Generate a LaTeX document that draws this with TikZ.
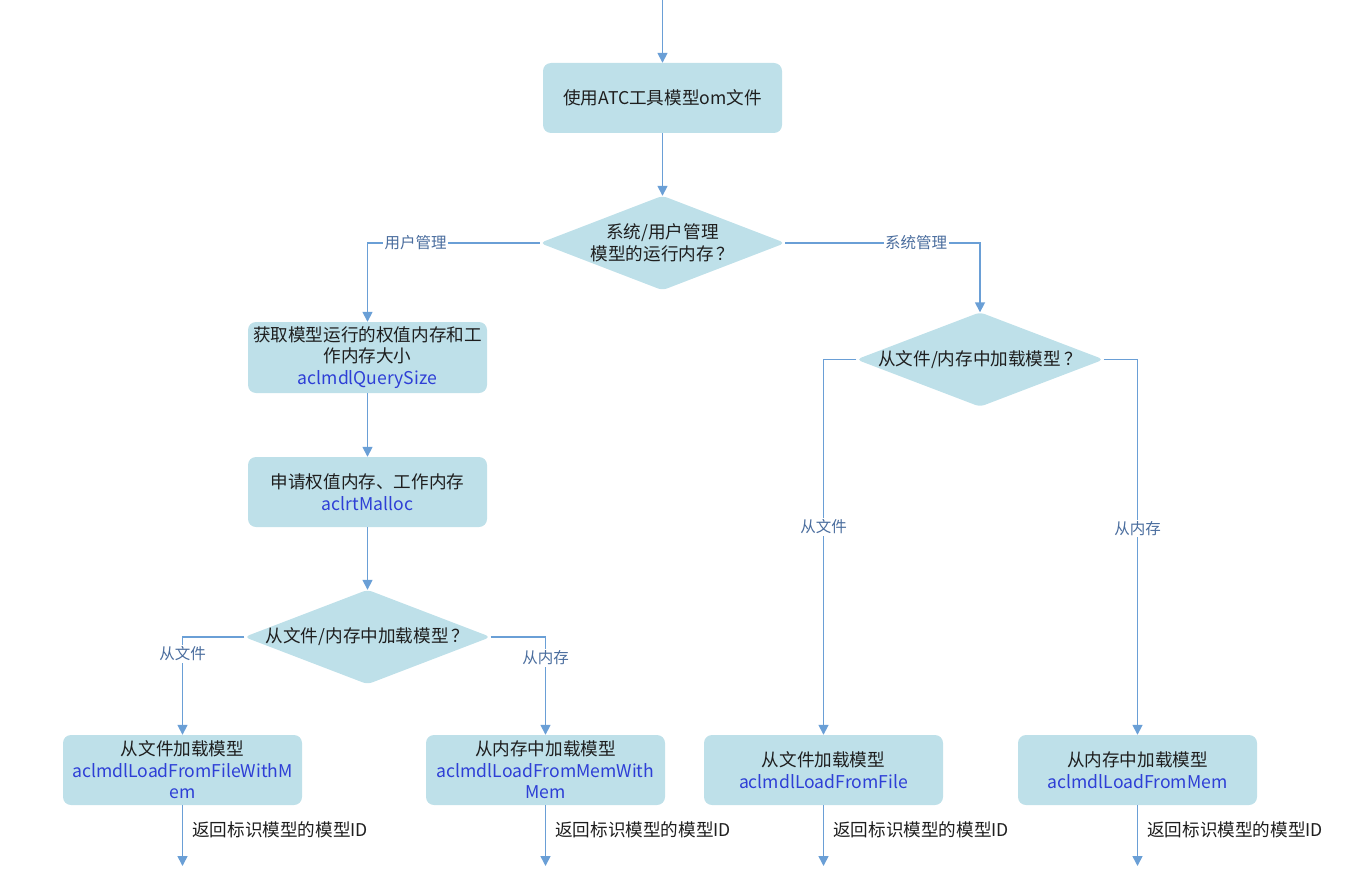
\documentclass[tikz,border=0pt]{standalone}
\usepackage{fontspec}
\setmainfont{Noto Sans CJK SC}
\usetikzlibrary{arrows.meta,backgrounds}
\definecolor{boxfill}{HTML}{BEE0E9}
\definecolor{linec}{HTML}{6A9FD6}
\definecolor{apiblue}{HTML}{2E3FD6}
\definecolor{lblc}{HTML}{4A6D9E}
\definecolor{txtc}{HTML}{1E1E1E}
\newcommand\apiname[1]{\textcolor{apiblue}{#1}}
\begin{document}
\begin{tikzpicture}[x=1pt,y=-1pt,
  box/.style={fill=boxfill, rounded corners=8pt, minimum width=239pt, minimum height=70pt,
    align=center, inner sep=0pt, text=txtc, font=\fontsize{17.6}{21.5}\selectfont},
  dia/.style={minimum width=#1, minimum height=94pt, inner sep=0pt, align=center,
    text=txtc, font=\fontsize{17.6}{22}\selectfont},
  conn/.style={draw=linec, line width=1.6pt, -{Triangle[width=10pt,length=10pt]}},
  elabel/.style={fill=white, text=lblc, font=\fontsize{15.5}{18}\selectfont, inner sep=1.5pt},
  ret/.style={anchor=west, text=txtc, inner sep=0pt, font=\fontsize{17.6}{20}\selectfont}
]
\useasboundingbox (0,0) rectangle (1351,872);

% nodes
\node[box] (b0) at (662.5,98) {使用ATC工具模型om文件};
\node[dia=245pt] (d1) at (662.5,243) {系统/用户管理\\模型的运行内存\,？};
\node[box, minimum height=71pt] (b1) at (367.5,357.5) {获取模型运行的权值内存和工\\作内存大小\\\apiname{aclmdlQuerySize}};
\node[box] (b2) at (367.5,492) {申请权值内存、工作内存\\\apiname{aclrtMalloc}};
\node[dia=246pt] (d2) at (367.5,637) {从文件/内存中加载模型\,？};
\node[box] (b3) at (182.5,770) {从文件加载模型\\\apiname{aclmdlLoadFromFileWithM}\\\apiname{em}};
\node[box] (b4) at (545.5,770) {从内存中加载模型\\\apiname{aclmdlLoadFromMemWith}\\\apiname{Mem}};
\node[dia=247pt] (d3) at (980,359.5) {从文件/内存中加载模型\,？};
\node[box] (b5) at (823.5,770) {从文件加载模型\\\apiname{aclmdlLoadFromFile}};
\node[box] (b6) at (1137.5,770) {从内存中加载模型\\\apiname{aclmdlLoadFromMem}};

% diamond bodies
\begin{pgfonlayer}{background}
\foreach \d in {d1,d2,d3}{
  \fill[boxfill, rounded corners=5pt] (\d.west) -- (\d.north) -- (\d.east) -- (\d.south) -- cycle;
}
\end{pgfonlayer}

% connectors
\coordinate (top) at (662.5,0);
\draw[conn] (top) -- (b0);
\draw[conn] (b0) -- (d1);
\draw[conn] (d1.west) -| node[elabel, pos=0.36] {用户管理} (b1.north);
\draw[conn] (d1.east) -| node[elabel, pos=0.336] {系统管理} (d3.north);
\draw[conn] (b1) -- (b2);
\draw[conn] (b2) -- (d2);
\draw[conn] (d2.west) -| node[elabel, pos=0.587] {从文件} (b3.north);
\draw[conn] (d2.east) -| node[elabel, pos=0.607] {从内存} (b4.north);
\draw[conn] (d3.west) -| node[elabel, pos=0.723] {从文件} (b5.north);
\draw[conn] (d3.east) -| node[elabel, pos=0.725] {从内存} (b6.north);

\foreach \b/\x in {b3/182.5, b4/545.5, b5/823.5, b6/1137.5}{
  \coordinate (\b end) at (\x,866);
  \draw[conn] (\b) -- node[ret, pos=0.4, xshift=9pt] {返回标识模型的模型ID} (\b end);
}
\end{tikzpicture}
\end{document}
